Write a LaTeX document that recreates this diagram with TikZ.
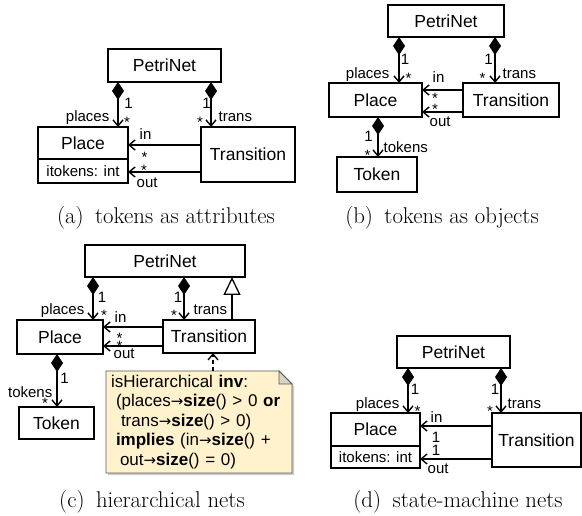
\documentclass[tikz,border=0pt]{standalone}
\usepackage{fontspec}
\setsansfont{Liberation Sans}
\newfontfamily\arrowfont{DejaVu Sans}
\newcommand{\notearrow}{{\arrowfont\fontsize{15}{17}\selectfont →}}
\usetikzlibrary{arrows.meta,calc,backgrounds,shadows}
\definecolor{notefill}{HTML}{FFF2CC}
\definecolor{notedraw}{HTML}{5A5A5A}
\definecolor{notefold}{HTML}{D9D3C2}

\begin{document}
\begin{tikzpicture}[x=1pt, y=-1pt,
    cls/.style={draw, line width=1.3pt, inner sep=0pt, outer sep=0pt, font=\sffamily\fontsize{17.5}{20}\selectfont},
    attr/.style={draw, line width=1.3pt, inner sep=0pt, outer sep=0pt, font=\sffamily\fontsize{15}{17}\selectfont},
    mult/.style={inner sep=0pt, anchor=base, font=\sffamily\fontsize{15}{17}\selectfont},
    comp/.style={line width=1.4pt, {Diamond[length=18pt,width=12pt]}-{Straight Barb[length=6pt,width=10pt]}},
    assoc/.style={line width=1.4pt, -{Straight Barb[length=6pt,width=10pt]}},
    gen/.style={line width=1.3pt, -{Triangle[open,length=18pt,width=17pt]}},
    dep/.style={line width=1.3pt, dash pattern=on 4pt off 3pt, -{Straight Barb[length=6pt,width=10pt]}},
    notetext/.style={inner xsep=5pt, inner ysep=0pt, outer sep=0pt, text width=176pt, align=left, minimum height=102pt, font=\sffamily\fontsize{17}{19.5}\selectfont},
    capt/.style={inner sep=0pt, font=\fontsize{22.8}{26}\selectfont}]
  \useasboundingbox (0,0) rectangle (582,516);

  % (a) tokens as attributes
  \node[cls, minimum width=113pt, minimum height=33pt] (netA) at (164.5,65.5) {PetriNet};
  \node[cls, minimum width=90pt, minimum height=32pt] (placeA) at (83,143) {Place};
  \node[attr, minimum width=90pt, minimum height=24pt, anchor=north] (placeAattr) at (placeA.south) {itokens: int};
  \node[cls, minimum width=94pt, minimum height=55pt] (transA) at (248,154.5) {Transition};
  \coordinate (cA1) at ($(netA.south west)+(10,0)$);
  \coordinate (cA2) at ($(netA.south east)+(-10,0)$);
  \coordinate (iA) at ($(transA.north west)+(0,18)$);
  \coordinate (oA) at ($(transA.north west)+(0,45)$);
  \draw[comp] (cA1) -- (cA1 |- placeA.north)
    node[mult, at end, xshift=10.5pt, yshift=18pt] {1}
    node[mult, at end, anchor=base east, xshift=-8pt, yshift=5pt] {places}
    node[mult, at end, xshift=9pt, yshift=-1pt] {*};
  \draw[comp] (cA2) -- (cA2 |- transA.north)
    node[mult, at end, xshift=-4.5pt, yshift=18pt] {1}
    node[mult, at end, xshift=-11pt, yshift=-1pt] {*}
    node[mult, at end, anchor=base west, xshift=7pt, yshift=5pt] {trans};
  \draw[assoc] (iA) -- (iA -| placeA.east)
    node[mult, at end, anchor=base west, xshift=11pt, yshift=5pt] {in}
    node[mult, at end, xshift=16.5pt, yshift=-17.6pt] {*};
  \draw[assoc] (oA) -- (oA -| placeAattr.east)
    node[mult, at end, xshift=16pt, yshift=-3.6pt] {*}
    node[mult, at end, anchor=base west, xshift=8pt, yshift=-16pt] {out};
  \node[capt] (capA) at (166,218) {(a)\hspace{0.5em}tokens as attributes};

  % (b) tokens as objects
  \node[cls, minimum width=116pt, minimum height=32pt] (netB) at (446,21) {PetriNet};
  \node[cls, minimum width=93pt, minimum height=34pt] (placeB) at (375.5,100) {Place};
  \node[cls, minimum width=96pt, minimum height=34pt] (transB) at (511,100) {Transition};
  \node[cls, minimum width=80pt, minimum height=35pt] (tokenB) at (377,174.5) {Token};
  \coordinate (cB1) at ($(netB.south west)+(11,0)$);
  \coordinate (cB2) at ($(netB.south east)+(-9,0)$);
  \coordinate (cB3) at ($(placeB.south)+(2.5,0)$);
  \coordinate (iB) at ($(transB.north west)+(0,7)$);
  \coordinate (oB) at ($(transB.north west)+(0,29)$);
  \draw[comp] (cB1) -- (cB1 |- placeB.north)
    node[mult, at end, xshift=6pt, yshift=18pt] {1}
    node[mult, at end, anchor=base east, xshift=-9pt, yshift=4pt] {places}
    node[mult, at end, xshift=9.5pt, yshift=-0.6pt] {*};
  \draw[comp] (cB2) -- (cB2 |- transB.north)
    node[mult, at end, xshift=-6.5pt, yshift=18pt] {1}
    node[mult, at end, xshift=-12.5pt, yshift=-0.6pt] {*}
    node[mult, at end, anchor=base west, xshift=7pt, yshift=4pt] {trans};
  \draw[comp] (cB3) -- (cB3 |- tokenB.north)
    node[mult, at end, xshift=-9.5pt, yshift=15pt] {1}
    node[mult, at end, xshift=-10.5pt, yshift=-4pt] {*}
    node[mult, at end, anchor=base west, xshift=5pt, yshift=4pt] {tokens};
  \draw[assoc] (iB) -- (iB -| placeB.east)
    node[mult, at end, anchor=base west, xshift=10pt, yshift=7pt] {in}
    node[mult, at end, xshift=13pt, yshift=-14pt] {*};
  \draw[assoc] (oB) -- (oB -| placeB.east)
    node[mult, at end, xshift=13pt, yshift=-2.6pt] {*}
    node[mult, at end, anchor=base west, xshift=7pt, yshift=-15pt] {out};
  \node[capt] (capB) at (442,218) {(b)\hspace{0.5em}tokens as objects};

  % (c) hierarchical nets
  \node[cls, minimum width=160pt, minimum height=32pt] (netC) at (165,261) {PetriNet};
  \node[cls, minimum width=86pt, minimum height=34pt] (placeC) at (60,337) {Place};
  \node[cls, minimum width=92pt, minimum height=33pt] (transC) at (209,336.5) {Transition};
  \node[cls, minimum width=75pt, minimum height=32pt] (tokenC) at (56.5,423) {Token};
  \coordinate (cC1) at ($(netC.south west)+(8,0)$);
  \coordinate (cC2) at ($(transC.north west)+(21,0)$);
  \coordinate (cC3) at ($(placeC.south)+(-3,0)$);
  \coordinate (gC) at ($(transC.north east)+(-23,0)$);
  \coordinate (iC) at ($(transC.north west)+(0,7)$);
  \coordinate (oC) at ($(transC.north west)+(0,26)$);
  \draw[comp] (cC1) -- (cC1 |- placeC.north)
    node[mult, at end, xshift=9pt, yshift=17pt] {1}
    node[mult, at end, anchor=base east, xshift=-8pt, yshift=5pt] {places}
    node[mult, at end, xshift=11pt, yshift=0pt] {*};
  \draw[comp] (cC2 |- netC.south) -- (cC2)
    node[mult, at end, xshift=-6pt, yshift=17pt] {1}
    node[mult, at end, xshift=-10pt, yshift=-0.6pt] {*}
    node[mult, at end, anchor=base west, xshift=9pt, yshift=5pt] {trans};
  \draw[gen] (gC) -- (gC |- netC.south);
  \draw[comp] (cC3) -- (cC3 |- tokenC.north)
    node[mult, at end, xshift=7.5pt, yshift=23pt] {1}
    node[mult, at end, anchor=base east, xshift=-4pt, yshift=10pt] {tokens}
    node[mult, at end, xshift=-12pt, yshift=-1.6pt] {*};
  \draw[assoc] (iC) -- (iC -| placeC.east)
    node[mult, at end, anchor=base west, xshift=11pt, yshift=4pt] {in}
    node[mult, at end, xshift=16.5pt, yshift=-16.6pt] {*};
  \draw[assoc] (oC) -- (oC -| placeC.east)
    node[mult, at end, xshift=16.5pt, yshift=-5.6pt] {*}
    node[mult, at end, anchor=base west, xshift=10pt, yshift=-13pt] {out};
  \node[notetext, anchor=north west] (noteC) at (106,371) {%
    \mbox{isHierarchical \textbf{inv}:}\\
    \mbox{\hspace*{5pt}(places\notearrow\textbf{size}() > 0 \textbf{or}}\\
    \mbox{\hspace*{10pt}trans\notearrow\textbf{size}() > 0)}\\
    \mbox{\hspace*{5pt}\textbf{implies} (in\notearrow\textbf{size}() +}\\
    \mbox{\hspace*{9pt}out\notearrow\textbf{size}() = 0)}};
  \begin{scope}[on background layer]
    \filldraw[notedraw, fill=notefill, line width=0.8pt, drop shadow={shadow xshift=2pt, shadow yshift=-2pt, fill=black!40}]
      (noteC.north west) -- ($(noteC.north east)+(-13,0)$) -- ($(noteC.north east)+(0,13)$)
      -- (noteC.south east) -- (noteC.south west) -- cycle;
    \filldraw[notedraw, fill=notefold, line width=0.8pt]
      ($(noteC.north east)+(-13,0)$) -- ($(noteC.north east)+(-13,13)$) -- ($(noteC.north east)+(0,13)$) -- cycle;
  \end{scope}
  \coordinate (dC) at ($(transC.south)+(4,0)$);
  \draw[dep] (dC |- noteC.north) -- (dC);
  \node[capt] (capC) at (152,502) {(c)\hspace{0.5em}hierarchical nets};

  % (d) state-machine nets
  \node[cls, minimum width=113pt, minimum height=32pt] (netD) at (453.5,352) {PetriNet};
  \node[cls, minimum width=89pt, minimum height=33pt] (placeD) at (375.5,429.5) {Place};
  \node[attr, minimum width=89pt, minimum height=22pt, anchor=north] (placeDattr) at (placeD.south) {itokens: int};
  \node[cls, minimum width=89pt, minimum height=54pt] (transD) at (536.5,440) {Transition};
  \coordinate (cD1) at ($(netD.south west)+(11,0)$);
  \coordinate (cD2) at ($(netD.south east)+(-9,0)$);
  \coordinate (iD) at ($(transD.north west)+(0,13)$);
  \coordinate (oD) at ($(transD.north west)+(0,46)$);
  \draw[comp] (cD1) -- (cD1 |- placeD.north)
    node[mult, at end, xshift=7pt, yshift=19pt] {1}
    node[mult, at end, anchor=base east, xshift=-8pt, yshift=4pt] {places}
    node[mult, at end, xshift=9.5pt, yshift=-3.6pt] {*};
  \draw[comp] (cD2) -- (cD2 |- transD.north)
    node[mult, at end, xshift=-6pt, yshift=19pt] {1}
    node[mult, at end, xshift=-11pt, yshift=-3.6pt] {*}
    node[mult, at end, anchor=base west, xshift=6pt, yshift=4pt] {trans};
  \draw[assoc] (iD) -- (iD -| placeD.east)
    node[mult, at end, anchor=base west, xshift=10pt, yshift=4pt] {in}
    node[mult, at end, xshift=16pt, yshift=-16.4pt] {1};
  \draw[assoc] (oD) -- (oD -| placeDattr.east)
    node[mult, at end, xshift=16pt, yshift=3.6pt] {1}
    node[mult, at end, anchor=base west, xshift=7pt, yshift=-14pt] {out};
  \node[capt] (capD) at (458,502) {(d)\hspace{0.5em}state-machine nets};
\end{tikzpicture}
\end{document}
